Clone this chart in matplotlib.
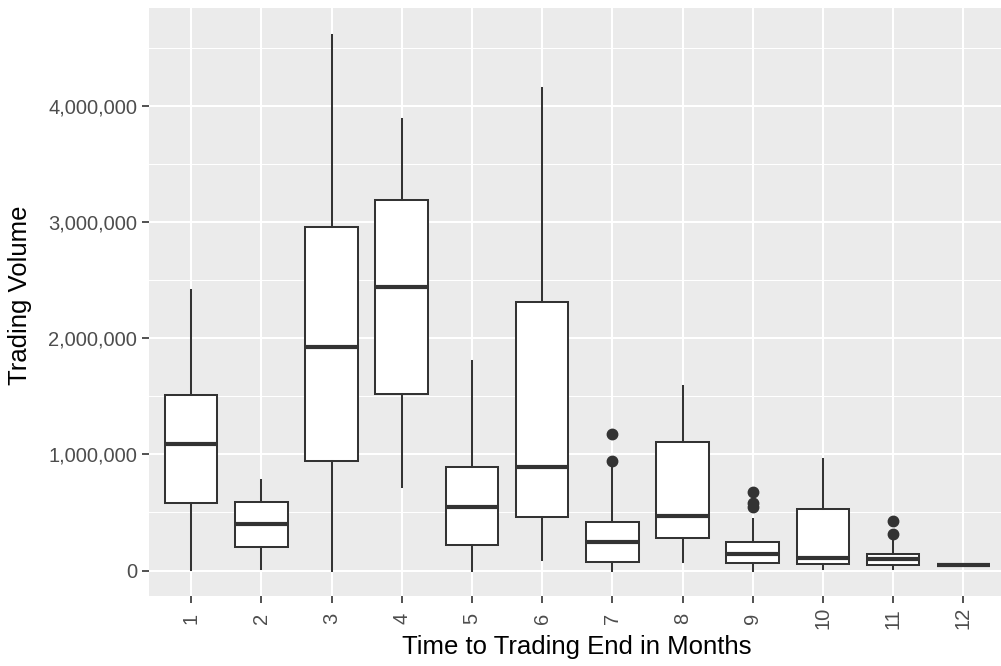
import matplotlib
matplotlib.use("Agg")
import matplotlib.pyplot as plt
from matplotlib.ticker import FuncFormatter, MultipleLocator

# ---- data ----
months = ["1", "2", "3", "4", "5", "6", "7", "8", "9", "10", "11", "12"]
whislo = [0.005e6, 0.013e6, 0.0, 0.717e6, 0.0, 0.09e6, 0.0, 0.07e6, 0.0, 0.01e6, 0.013e6, 0.040e6]
q1 = [0.584e6, 0.205e6, 0.946e6, 1.518e6, 0.217e6, 0.461e6, 0.076e6, 0.283e6, 0.062e6, 0.053e6, 0.045e6, 0.044e6]
median = [1.087e6, 0.398e6, 1.922e6, 2.44e6, 0.55e6, 0.894e6, 0.243e6, 0.472e6, 0.142e6, 0.105e6, 0.099e6, 0.047e6]
q3 = [1.512e6, 0.587e6, 2.958e6, 3.19e6, 0.889e6, 2.313e6, 0.415e6, 1.109e6, 0.243e6, 0.527e6, 0.142e6, 0.050e6]
whishi = [2.416e6, 0.78e6, 4.612e6, 3.886e6, 1.804e6, 4.153e6, 0.90e6, 1.589e6, 0.444e6, 0.958e6, 0.26e6, 0.055e6]
outliers = [[], [], [], [], [], [], [0.946e6, 1.173e6], [], [0.55e6, 0.579e6, 0.676e6], [], [0.312e6, 0.426e6], []]

y_ticks = [0, 1e6, 2e6, 3e6, 4e6]
x_title = "Time to Trading End in Months"
y_title = "Trading Volume"

# ---- figure ----
plt.rcParams['font.family'] = ['Liberation Sans', 'DejaVu Sans']
W, H = 1001, 666
fig = plt.figure(figsize=(W / 100, H / 100), dpi=100)
ax = fig.add_axes([149 / W, 70 / H, (1005.5 - 149) / W, 588 / H])
ax.set_facecolor("#EBEBEB")

stats = []
for i in range(len(months)):
    stats.append(dict(whislo=whislo[i], q1=q1[i], med=median[i], q3=q3[i],
                      whishi=whishi[i], fliers=outliers[i], label=months[i]))

dark = "#333333"
ax.bxp(stats, positions=range(1, len(months) + 1), widths=0.75,
       patch_artist=True, showcaps=False, zorder=3,
       boxprops=dict(facecolor="white", edgecolor=dark, linewidth=1.45),
       whiskerprops=dict(color=dark, linewidth=1.45),
       medianprops=dict(color=dark, linewidth=3.0, solid_capstyle="butt"),
       flierprops=dict(marker="o", markerfacecolor=dark, markeredgecolor=dark,
                       markersize=7.5, linestyle="none"))

ax.set_xlim(0.4, len(months) + 0.6)
ax.set_ylim(-0.2196e6, 4.845e6)
ax.set_yticks(y_ticks)
ax.yaxis.set_major_formatter(FuncFormatter(lambda v, p: f"{int(round(v)):,}"))
ax.yaxis.set_minor_locator(MultipleLocator(0.5e6))

ax.grid(True, which="major", color="white", linewidth=1.5, zorder=0)
ax.grid(True, which="minor", axis="y", color="white", linewidth=0.75, zorder=0)
ax.set_axisbelow(True)
for s in ax.spines.values():
    s.set_visible(False)

ax.tick_params(axis="both", which="major", color=dark, length=5, width=1.2,
               labelcolor="#4D4D4D", labelsize=14.5)
ax.tick_params(axis="both", which="minor", length=0)
ax.tick_params(axis="x", pad=11)
for lab in ax.get_xticklabels():
    lab.set_rotation(90)
    lab.set_va("center")
    lab.set_ha("center")

fig.text(577 / W, 1 - 647 / H, x_title, ha="center", va="center", fontsize=18.5, color="black")
fig.text(20 / W, 1 - 295 / H, y_title, ha="center", va="center", rotation=90, fontsize=18.5, color="black")

fig.savefig("out.png", dpi=100)
